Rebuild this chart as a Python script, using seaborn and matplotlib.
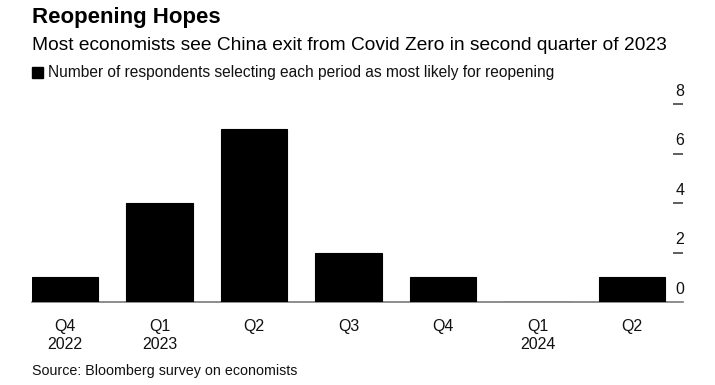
import matplotlib
matplotlib.use("Agg")
import matplotlib.pyplot as plt
import matplotlib.transforms as mtransforms
import seaborn as sns
import pandas as pd

periods = ["2022Q4", "2023Q1", "2023Q2", "2023Q3", "2023Q4", "2024Q1", "2024Q2"]
tick_labels = ["Q4\n2022", "Q1\n2023", "Q2", "Q3", "Q4", "Q1\n2024", "Q2"]
respondents = [1, 4, 7, 2, 1, 0, 1]
y_ticks = [0, 2, 4, 6, 8]

sns.set_theme(style="white")
plt.rcParams['font.family'] = ['Liberation Sans', 'DejaVu Sans']

df = pd.DataFrame({"period": periods, "n": respondents})

W, H = 715, 385
fig = plt.figure(figsize=(W / 100, H / 100), dpi=100)
left, right, base, top = 32, 683, 302, 104
ax = fig.add_axes([left / W, 1 - base / H, (right - left) / W, (base - top) / H])

sns.barplot(data=df, x="period", y="n", order=periods, color="black",
            width=0.7, edgecolor="black", linewidth=0.8, saturation=1, ax=ax)
for p in ax.patches:
    p.set_zorder(3)

ax.set_xlim(-0.35, 6.54)
ax.set_ylim(0, 8)
ax.set_xlabel("")
ax.set_ylabel("")

for s in ["top", "left", "right"]:
    ax.spines[s].set_visible(False)
ax.spines["bottom"].set_color("#7a7a7a")
ax.spines["bottom"].set_linewidth(1.2)

ax.set_xticks(range(len(periods)))
ax.set_xticklabels(tick_labels, fontsize=11.5, color="#111111", linespacing=1.3)
ax.tick_params(axis="x", direction="out", length=4, width=1, color="#7a7a7a", pad=8)

ax.yaxis.tick_right()
ax.set_yticks(y_ticks)
ax.set_yticklabels([str(v) for v in y_ticks], fontsize=11.5, color="#111111")
ax.tick_params(axis="y", direction="in", length=7.5, width=1.1, color="#333333", pad=1)
offset = mtransforms.ScaledTranslation(0, 0.145, fig.dpi_scale_trans)
for lbl in ax.get_yticklabels():
    lbl.set_horizontalalignment("right")
    lbl.set_transform(lbl.get_transform() + offset)
ax.yaxis.get_major_ticks()[0].tick2line.set_visible(False)

fig.text(left / W, 1 - 18 / H, "Reopening Hopes", fontsize=16, fontweight="bold",
         va="center", ha="left", color="black")
fig.text(left / W, 1 - 46 / H,
         "Most economists see China exit from Covid Zero in second quarter of 2023",
         fontsize=13.8, va="center", ha="left", color="black")
fig.patches.append(plt.Rectangle((left / W, 1 - 78 / H), 11 / W, 11 / H,
                                 transform=fig.transFigure, color="black"))
fig.text(48 / W, 1 - 72 / H,
         "Number of respondents selecting each period as most likely for reopening",
         fontsize=11.2, va="center", ha="left", color="#111111")
fig.text(left / W, 1 - 371 / H, "Source: Bloomberg survey on economists",
         fontsize=10.3, va="center", ha="left", color="#111111")

fig.savefig("out.png", dpi=100)
